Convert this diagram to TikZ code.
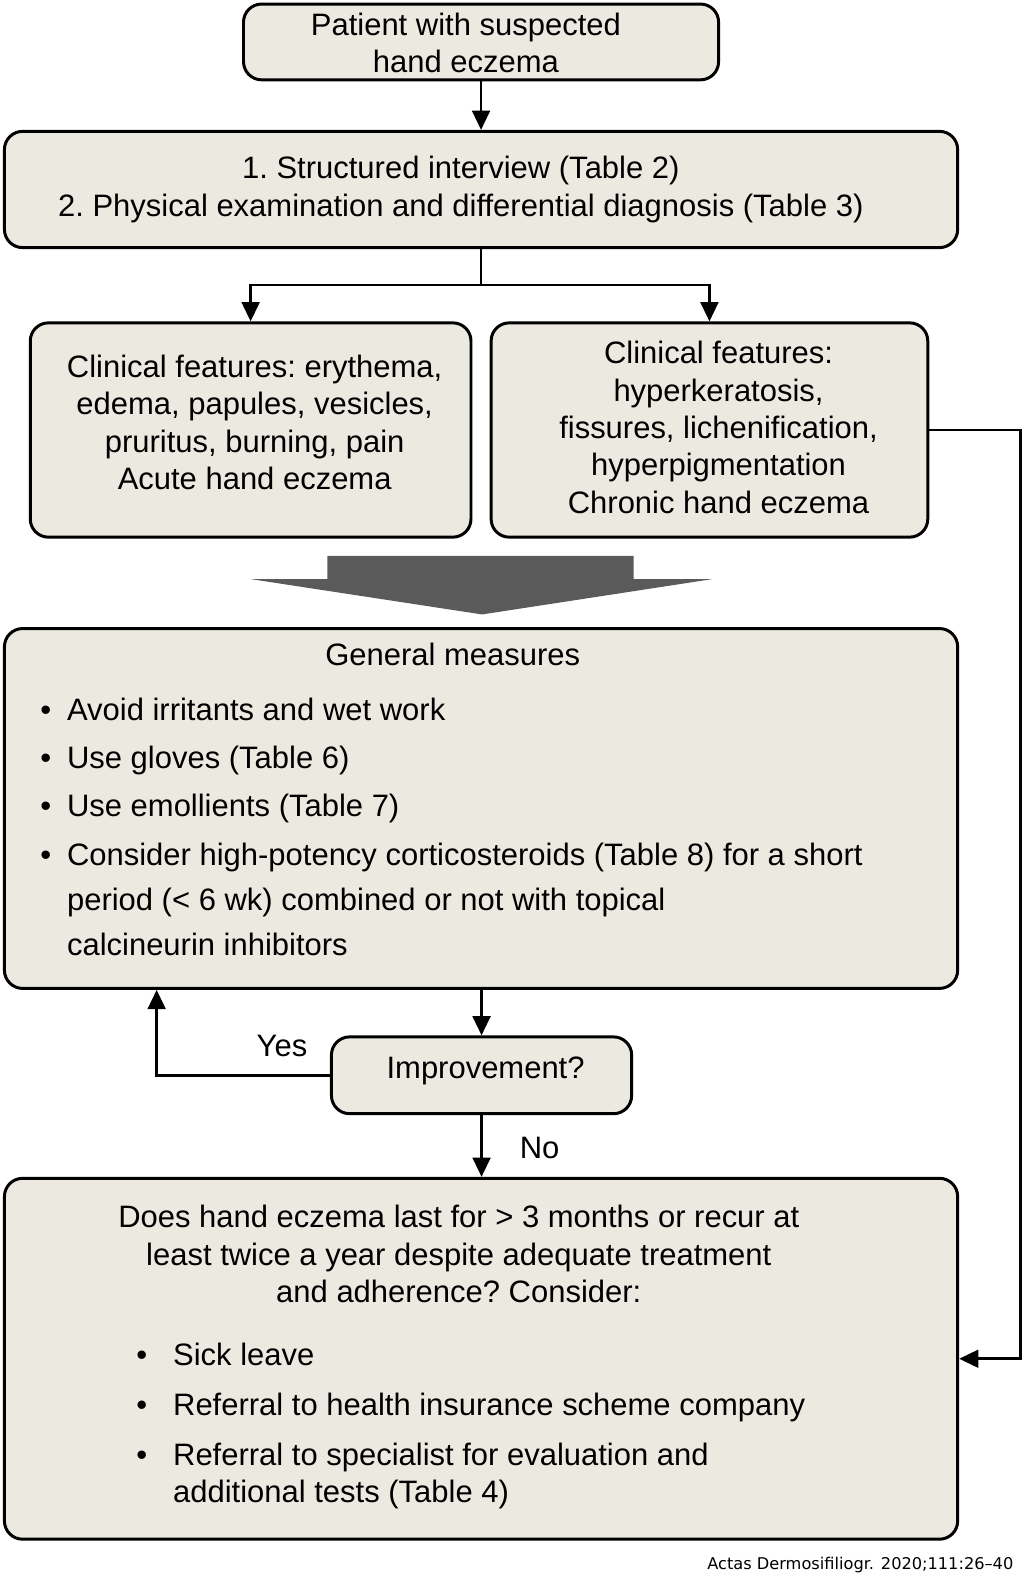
\documentclass[tikz,border=0pt]{standalone}
\usepackage{fontspec}
\setmainfont{Liberation Sans}
\newfontfamily\footfont{DejaVu Sans}
\usepackage{array}
\usetikzlibrary{arrows.meta, calc}
\tikzset{box/.style={draw, line width=2.1pt, rounded corners=0.45cm, fill=boxfill, inner sep=0pt},
	txt/.style={align=center, inner sep=0pt},
	conn/.style={-{Triangle[width=12.5pt, length=13.5pt]}, line width=1.8pt}}
\definecolor{boxfill}{HTML}{ECEAE0}
\definecolor{bigarrow}{HTML}{5A5A5A}
\newcommand{\mainsize}{\fontsize{21.8}{26.3}\selectfont\frenchspacing}

\begin{document}
\begin{tikzpicture}[x=0.025cm, y=-0.025cm, font=\mainsize]
		\useasboundingbox (0,0) rectangle (1013.3,1566.4);
		
		\node[box, minimum width=11.75cm, minimum height=1.875cm] (patient) at (476,41.5) {};
		\node[txt] (patienttxt) at (461,42.5) {Patient with suspected\\hand eczema};
		
		\node[box, minimum width=23.575cm, minimum height=2.875cm] (intv) at (476,187.5) {};
		\node[txt] (intvtxt) at (456,187.5) {1. Structured interview (Table 2)\\2. Physical examination and differential diagnosis (Table 3)};
		
		\node[box, minimum width=10.9cm, minimum height=5.3cm] (acute) at (248,425.5) {};
		\node[txt] (acutetxt) at (252,418) {Clinical features: erythema,\\edema, papules, vesicles,\\pruritus, burning, pain\\Acute hand eczema};
		
		\node[box, minimum width=10.8cm, minimum height=5.3cm] (chronic) at (702,425.5) {};
		\node[txt] (chronictxt) at (711,423) {Clinical features:\\hyperkeratosis,\\fissures, lichenification,\\hyperpigmentation\\Chronic hand eczema};
		
		\fill[bigarrow] (324,550) -- (627,550) -- (627,573) -- (705,573) -- (477,608) -- (248,573) -- (324,573) -- cycle;
		
		\node[box, minimum width=23.575cm, minimum height=8.9cm] (gm) at (476,800) {};
		\node[txt, anchor=base] (gmtitle) at (448,659) {General measures};
		\node[anchor=base west, inner sep=0pt] (gmlist) at (39.6,713) {\fontsize{21.8}{31.7}\selectfont
			\begin{tabular}[t]{@{}l@{\hspace{11.2pt}}l@{}}
				\textbullet & Avoid irritants and wet work\\[2.2pt]
				\textbullet & Use gloves (Table 6)\\[2.2pt]
				\textbullet & Use emollients (Table 7)\\[2.2pt]
				\textbullet & Consider high-potency corticosteroids (Table 8) for a short\\
				& period (< 6 wk) combined or not with topical\\
				& calcineurin inhibitors
		\end{tabular}};
		
		\node[box, minimum width=7.425cm, minimum height=1.9cm] (impr) at (476.5,1064) {};
		\node[txt] (imprtxt) at (480.5,1060) {Improvement?};
		
		\node[box, minimum width=23.575cm, minimum height=8.925cm] (final) at (476,1344.5) {};
		\node[anchor=base, inner sep=0pt] (finalhead) at (454,1215) {%
			\begin{tabular}[t]{@{}c@{}}
				Does hand eczema last for > 3 months or recur at\\
				least twice a year despite adequate treatment\\
				and adherence? Consider:
		\end{tabular}};
		\node[anchor=base west, inner sep=0pt] (finallist) at (134.6,1351) {%
			\begin{tabular}[t]{@{}l@{\hspace{18.3pt}}l@{}}
				\textbullet & Sick leave\\[8.9pt]
				\textbullet & Referral to health insurance scheme company\\[8.9pt]
				\textbullet & Referral to specialist for evaluation and\\
				& additional tests (Table 4)
		\end{tabular}};
		
		\coordinate (split) at (476,282);
		\coordinate (yesup) at (155,1064);
		\draw[conn] (patient.south) -- (patient.south |- intv.north);
		\draw[conn] (intv.south) -- (split) -| (acute.north);
		\draw[conn] (split) -| (chronic.north);
		\draw[conn] (chronic.east) -- ++(90,0) |- (final.east);
		\draw[conn] (gm.south -| impr.north) -- (impr.north);
		\draw[conn] (impr.west) -- (yesup) -- (yesup |- gm.south);
		\draw[conn] (impr.south) -- (impr.south |- final.north);
		\node[txt] (yes) at (279,1035) {Yes};
		\node[txt] (no) at (534,1136) {No};
		
		\node[anchor=base east, inner sep=0pt, font=\footfont\fontsize{11.4}{13}\selectfont] (cite) at (1003,1553) {Actas Dermosifiliogr. 2020;111:26–40};
	\end{tikzpicture}
\end{document}
